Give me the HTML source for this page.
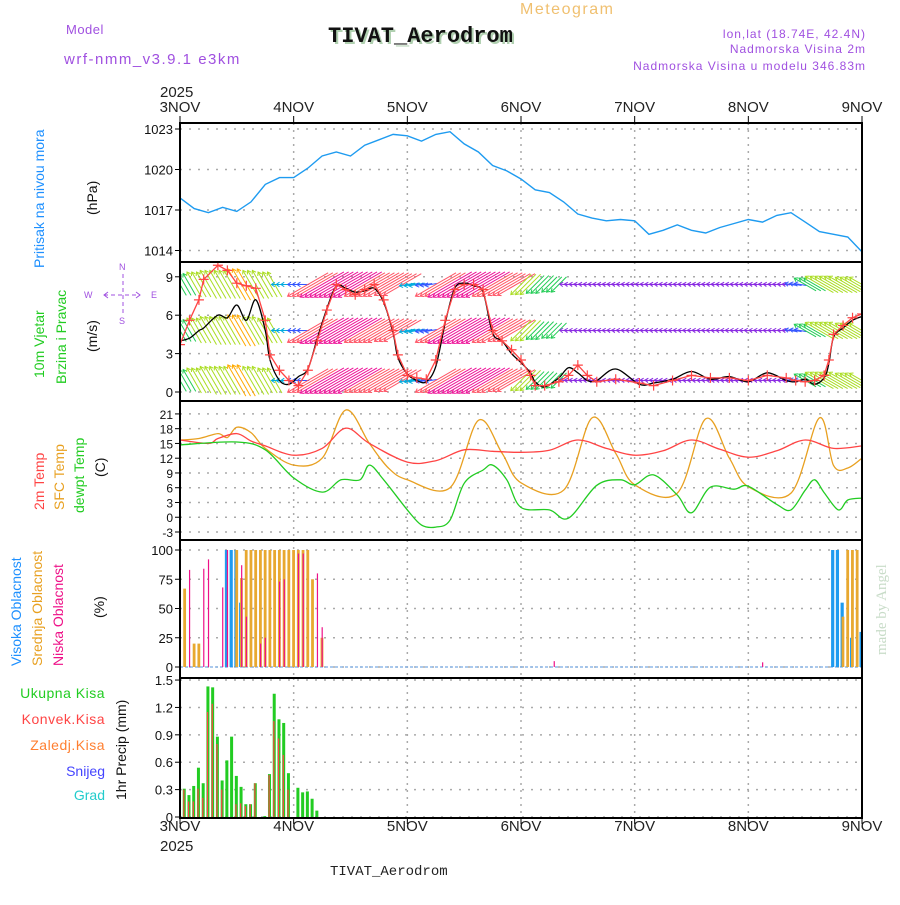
<!DOCTYPE html>
<html><head><meta charset="utf-8"><style>
body{margin:0;background:#fff;width:900px;height:900px;overflow:hidden;font-family:"Liberation Sans",sans-serif}
</style></head><body>
<svg id="chart" width="900" height="900" viewBox="0 0 900 900" xmlns="http://www.w3.org/2000/svg" font-family="Liberation Sans, sans-serif">
<text x="520" y="14" font-size="16" fill="#f0c070" letter-spacing="1.5">Meteogram</text>
<text x="330" y="44" font-size="22" font-weight="bold" style="font-family:'Liberation Mono',monospace" fill="#b0d0b0">TIVAT_Aerodrom</text>
<text x="328" y="42" font-size="22" font-weight="bold" style="font-family:'Liberation Mono',monospace" fill="#111">TIVAT_Aerodrom</text>
<text x="66" y="34" font-size="13" fill="#a050e0" letter-spacing="0.5">Model</text>
<text x="64" y="64" font-size="15" fill="#a050e0" letter-spacing="1.5">wrf-nmm_v3.9.1 e3km</text>
<text x="866" y="38" font-size="12" fill="#a050e0" text-anchor="end" letter-spacing="1">lon,lat (18.74E, 42.4N)</text>
<text x="866" y="53" font-size="12" fill="#a050e0" text-anchor="end" letter-spacing="1">Nadmorska Visina 2m</text>
<text x="866" y="70" font-size="12" fill="#a050e0" text-anchor="end" letter-spacing="1">Nadmorska Visina u modelu 346.83m</text>
<text x="160" y="97" font-size="15" fill="#222">2025</text>
<text x="160" y="851" font-size="15" fill="#222">2025</text>
<text x="330" y="875" font-size="14" style="font-family:'Liberation Mono',monospace" fill="#222">TIVAT_Aerodrom</text>
<text transform="translate(886,655) rotate(-90)" font-size="15" style="font-family:'Liberation Serif',serif" fill="#c8dcc8">made by Angel</text>
<g id="ylabels">
<text transform="translate(44,268) rotate(-90)" font-size="14" fill="#1e90ff">Pritisak na nivou mora</text>
<text transform="translate(97,215) rotate(-90)" font-size="14" fill="#111">(hPa)</text>
<text transform="translate(44,378) rotate(-90)" font-size="14" fill="#22cc22">10m Vjetar</text>
<text transform="translate(66,384) rotate(-90)" font-size="14" fill="#22cc22">Brzina i Pravac</text>
<text transform="translate(97,352) rotate(-90)" font-size="14" fill="#111">(m/s)</text>
<g fill="#a050e0" stroke="#a050e0" font-size="9">
<text x="84" y="298" stroke="none">W</text>
<text x="151" y="298" stroke="none">E</text>
<text x="119" y="270" stroke="none">N</text>
<text x="119" y="324" stroke="none">S</text>
<line x1="104" y1="295" x2="140" y2="295" stroke-dasharray="4,3"/>
<line x1="123" y1="274" x2="123" y2="315" stroke-dasharray="4,3"/>
<path d="M108,292 L104,295 L108,298 M136,292 L140,295 L136,298" fill="none"/>
</g>
<text transform="translate(44,510) rotate(-90)" font-size="14" fill="#ff4444">2m Temp</text>
<text transform="translate(64,510) rotate(-90)" font-size="14" fill="#e8a020">SFC Temp</text>
<text transform="translate(84,513) rotate(-90)" font-size="14" fill="#22cc22">dewpt Temp</text>
<text transform="translate(105,477) rotate(-90)" font-size="14" fill="#111">(C)</text>
<text transform="translate(21,666) rotate(-90)" font-size="14" fill="#1e90ff">Visoka Oblacnost</text>
<text transform="translate(42,666) rotate(-90)" font-size="14" fill="#e8a020">Srednja Oblacnost</text>
<text transform="translate(63,666) rotate(-90)" font-size="14" fill="#ee1188">Niska Oblacnost</text>
<text transform="translate(104,618) rotate(-90)" font-size="14" fill="#111">(%)</text>
<text x="105" y="698" font-size="14" fill="#22cc22" text-anchor="end" letter-spacing="0.5">Ukupna Kisa</text>
<text x="105" y="724" font-size="14" fill="#ff4444" text-anchor="end" letter-spacing="0.5">Konvek.Kisa</text>
<text x="105" y="750" font-size="14" fill="#ff7f30" text-anchor="end" letter-spacing="0.5">Zaledj.Kisa</text>
<text x="105" y="776" font-size="14" fill="#4444ff" text-anchor="end">Snijeg</text>
<text x="105" y="800" font-size="14" fill="#22cccc" text-anchor="end">Grad</text>
<text transform="translate(126,800) rotate(-90)" font-size="14" fill="#111">1hr Precip (mm)</text>
</g>
</svg>
<script>
// ---- data ----
const dayLabels=["3NOV","4NOV","5NOV","6NOV","7NOV","8NOV","9NOV"];
const presHours=[0,3,6,9,12,15,18,21,24,27,30,33,36,39,42,45,48,51,54,57,60,63,66,69,72,75,78,81,84,87,90,93,96,99,102,105,108,111,114,117,120,123,126,129,132,135,138,141,144];
const presValues=[1017.9,1017.1,1016.8,1017.2,1016.9,1017.6,1018.9,1019.4,1019.4,1020.1,1021.0,1021.3,1021.0,1021.8,1022.2,1022.6,1022.5,1022.1,1022.6,1022.8,1021.9,1021.3,1020.3,1019.9,1019.3,1018.5,1018.3,1017.6,1016.7,1016.4,1016.2,1016.3,1016.2,1015.2,1015.5,1015.9,1015.5,1015.3,1015.7,1016.0,1016.3,1016.1,1016.6,1016.8,1016.1,1015.4,1015.2,1015.0,1013.9];
const presTicks=[1014,1017,1020,1023];
const windTicks=[0,3,6,9];
const windHours=[0,2,4,5,8,10,12,14,16,18,19,21,23,25,27,29,31,33,35,37,39,41,43,45,46,48,50,52,54,56,58,60,62,64,66,68,70,72,74,75,77,80,82,84,86,88,92,97,100,104,108,112,116,120,124,128,130,132,134,136,137,138,140,142,144];
const windSpeed=[3.7,5.6,7.2,8.8,9.9,9.5,8.5,8.3,8.1,5.6,2.9,1.7,0.9,0.5,1.7,4.0,6.4,8.4,8.0,7.6,8.0,8.4,7.2,4.8,2.9,1.3,1.1,1.0,2.5,5.6,8.0,8.4,8.4,8.0,4.8,4.0,3.3,2.5,1.3,0.5,0.5,0.8,1.3,2.1,1.3,0.8,1.0,0.7,0.5,0.9,1.3,1.1,1.1,0.9,1.3,1.1,0.9,0.8,0.9,1.3,2.5,4.5,5.2,5.8,6.1];
const windGust=[4.0,4.2,4.8,5.0,6.0,5.8,6.8,5.6,7.2,4.8,2.5,0.9,0.6,1.2,1.8,4.2,6.5,8.3,8.1,7.8,7.9,8.1,7.0,4.6,2.7,1.4,0.9,0.8,2.0,5.4,8.1,8.5,8.3,7.8,4.6,4.0,3.0,2.3,1.5,0.8,0.4,1.1,1.9,1.5,0.9,0.9,1.8,0.6,0.7,1.0,1.6,1.0,1.2,0.8,1.5,0.9,0.8,1.0,0.6,1.1,2.2,4.3,5.0,5.6,5.9];
const arrowSpeed=[7,8,9,9,10,9,8,4,3,13,14,14,14,13,13,12,4,3,13,14,14,14,13,12,8,7,6,2,2,2,2,2,2,2,2,2,2,2,2,2,2,2,2,3,7,9,9,8,8];
const arrowDir=[330,330,330,330,330,330,330,270,270,240,240,240,240,240,240,240,260,260,240,240,240,240,240,240,225,225,225,275,275,275,275,275,275,275,275,275,275,275,275,275,275,275,275,280,300,300,300,300,300];
const windLevels=[8.4,4.8,0.9];
const tempTicks=[-3,0,3,6,9,12,15,18,21];
const t2Hours=[0,6,8,12,15,18,24,30,35,40,48,54,60,66,72,78,84,90,96,102,108,114,120,126,132,138,144];
const t2Values=[15.7,15.0,16.0,17.0,15.5,14.5,12.6,14.0,18.1,15.0,11.2,11.5,13.7,13.4,13.2,13.6,15.7,14.0,12.6,13.5,15.7,13.8,12.2,13.5,15.7,14.0,14.5];
const sfcHours=[0,4,8,10,12,15,18,24,30,35,40,44,48,57,63,68,72,81,87,92,96,105,111,116,120,129,135,138,141,144];
const sfcValues=[15.7,16.0,17.0,16.2,18.3,17.2,14.0,10.6,12.0,21.8,15.0,10.0,7.6,6.0,19.7,13.0,7.0,5.5,20.2,13.0,6.6,4.9,20.0,12.0,6.2,4.9,20.2,10.5,10.0,12.0];
const dewHours=[0,12,18,24,30,34,38,40,43,48,51,54,57,60,64,66,69,72,78,82,88,93,96,100,105,108,112,117,120,126,129,132,134,136,139,141,144];
const dewValues=[14.7,15.3,13.7,8.0,5.1,7.6,7.6,10.6,7.6,1.5,-1.6,-2.0,-0.6,6.9,9.6,10.6,7.6,2.0,1.5,-0.2,6.5,7.6,6.6,8.6,4.5,0.9,6.1,5.7,6.3,2.6,1.5,5.5,7.6,5.0,1.5,3.5,3.9];
const cloudTicks=[0,25,50,75,100];
const highHours=[10,11,12,13,138,139,140,142,144];
const highValues=[100,100,100,55,100,100,55,25,30];
const midHours=[1,3,4,12,13,14,15,16,17,18,19,20,21,22,23,24,25,26,27,28,30,140,141,142,143];
const midValues=[67,20,20,100,76,100,100,100,100,100,100,100,100,100,100,100,100,100,100,75,25,43,100,100,100];
const lowHours=[2,5,6,9,10,13,14,17,18,21,22,25,26,29,30,79,123,144];
const lowValues=[83,84,92,68,100,87,43,20,25,73,75,97,97,80,34,5,4,10];
const precipTicks=[0,0.3,0.6,0.9,1.2,1.5];
const precipHours=[1,2,3,4,5,6,7,8,9,10,11,12,13,14,15,16,18,19,20,21,22,23,25,26,27,28,29];
const totalPrecip=[0.31,0.24,0.34,0.54,0.37,1.43,1.42,0.88,0.40,0.62,0.88,0.45,0.33,0.14,0.14,0.37,0.01,0.47,1.35,1.07,1.03,0.48,0.32,0.27,0.28,0.20,0.07];
const convPrecip=[0.30,0.17,0.17,0.31,0.21,1.15,1.24,0.80,0.30,0,0,0.14,0.15,0.12,0.14,0.37,0,0.46,1.05,0.86,0.68,0.30,0,0,0,0,0];

// ---- layout ----
const svg=document.getElementById('chart');
const NS='http://www.w3.org/2000/svg';
const X0=180,X1=862;
const xs=h=>X0+h*(X1-X0)/144;
function mk(tag,attrs,parent){const e=document.createElementNS(NS,tag);for(const k in attrs)e.setAttribute(k,attrs[k]);(parent||svg).appendChild(e);return e;}
const panels=[
 {name:'pressure',top:123,bot:262,lin:v=>129+(1023-v)*13.5,ticks:presTicks},
 {name:'wind',top:262,bot:401,lin:v=>392-v*12.8,ticks:windTicks},
 {name:'temp',top:401,bot:540,lin:v=>532-(v+3)*4.92,ticks:tempTicks},
 {name:'cloud',top:540,bot:678,lin:v=>667-v*1.17,ticks:cloudTicks},
 {name:'precip',top:678,bot:818,lin:v=>817-v*91.3,ticks:precipTicks}
];
panels.forEach((p,pi)=>{
 const g=mk('g',{});
 
 
 p.g=g;
 const cp=mk('clipPath',{id:'clip'+pi},g);mk('rect',{x:X0,y:p.top,width:X1-X0,height:p.bot-p.top},cp);
 p.ticks.forEach(t=>{const y=p.lin(t);
  const gl=mk('line',{x1:X0,x2:X1,y1:y,y2:y,stroke:'#aaa','stroke-dasharray':'2,7','stroke-width':1.5},g);
  
  
  mk('line',{x1:X0-5,x2:X0,y1:y,y2:y,stroke:'#000'},g);
  const tl=mk('text',{x:X0-7,y:y+5,'font-size':p.name==='temp'?12:13,'text-anchor':'end',fill:'#111'},g);
  tl.textContent=t;
  
  
 });
 for(let d=1;d<6;d++){const vl=mk('line',{x1:xs(d*24),x2:xs(d*24),y1:p.top,y2:p.bot,stroke:'#aaa','stroke-dasharray':'2,5','stroke-width':1.5},g);
  
  }
 p.cg=mk('g',{'clip-path':'url(#clip'+pi+')'},g);
});
function line(p,hours,vals,color,name,w,smooth){
 const pts=hours.map((h,i)=>[xs(h),p.lin(vals[i])]);
 let d='M'+pts[0][0].toFixed(1)+','+pts[0][1].toFixed(1);
 for(let i=1;i<pts.length;i++){
  if(smooth){const p0=pts[Math.max(0,i-2)],p1=pts[i-1],p2=pts[i],p3=pts[Math.min(pts.length-1,i+1)];
   const c1=[p1[0]+(p2[0]-p0[0])/6,p1[1]+(p2[1]-p0[1])/6],c2=[p2[0]-(p3[0]-p1[0])/6,p2[1]-(p3[1]-p1[1])/6];
   d+=`C${c1[0].toFixed(1)},${c1[1].toFixed(1)} ${c2[0].toFixed(1)},${c2[1].toFixed(1)} ${p2[0].toFixed(1)},${p2[1].toFixed(1)}`;}
  else d+='L'+pts[i][0].toFixed(1)+','+pts[i][1].toFixed(1);
 }
 const e=mk('path',{d:d,fill:'none',stroke:color,'stroke-width':w||1.3},p.cg);
 
 
 return e;
}
line(panels[0],presHours,presValues,'#1e9bf0','pressure-line',1.4,false);
const P1=panels[1];
function spdColor(s){if(s<2.5)return'#8a2be2';if(s<4)return'#3355ff';if(s<6)return'#00aadd';if(s<8)return'#22cc55';if(s<10)return'#aadd22';if(s<12)return'#ffaa00';if(s<13.5)return'#ff5566';return'#ee1199';}
windLevels.forEach((lv,li)=>{
 for(let h=0;h<=144;h++){
  const i=Math.floor(h/3);const s=arrowSpeed[i],a=arrowDir[i]*Math.PI/180;
  const L=s<5?s*4:s*3.6;const x=xs(h),y=P1.lin(lv);
  const sx=x-Math.sin(a)*L*0.5,sy=y+Math.cos(a)*L*0.5;
  const tx=x+Math.sin(a)*L*0.5,ty=y-Math.cos(a)*L*0.5;
  const c=spdColor(s);
  const ar=mk('path',{d:`M${sx},${sy}L${tx},${ty}`,stroke:c,'stroke-width':1,fill:'none'},P1.cg);
  
  
  const ha=0.6;const hl=4;
  const b1x=tx-Math.sin(a-ha)*hl,b1y=ty+Math.cos(a-ha)*hl,b2x=tx-Math.sin(a+ha)*hl,b2y=ty+Math.cos(a+ha)*hl;
  mk('path',{d:`M${b1x},${b1y}L${tx},${ty}L${b2x},${b2y}`,stroke:c,'stroke-width':1,fill:'none'},P1.cg);
 }
});
line(P1,windHours,windGust,'#000','wind-speed-black-line',1.3,true);
line(P1,windHours,windSpeed,'#ff4444','wind-speed-line',1.3,false);
windHours.forEach((h,i)=>{const x=xs(h),y=P1.lin(windSpeed[i]);
 const m=mk('path',{d:`M${x-5},${y}h10M${x},${y-5}v10`,stroke:'#ff4444','stroke-width':1.2},P1.cg);
 
 });
const P2=panels[2];
line(P2,sfcHours,sfcValues,'#e8a020','sfc-temp-line',1.3,true);
line(P2,t2Hours,t2Values,'#ff4444','temp-2m-line',1.3,true);
line(P2,dewHours,dewValues,'#22cc22','dewpoint-line',1.3,true);
const P3=panels[3];
mk('line',{x1:X0,x2:X1,y1:P3.lin(0),y2:P3.lin(0),stroke:'#8fb8e8','stroke-width':1.5,'stroke-dasharray':'3,2'},P3.cg);
function bars(p,hours,vals,color,w,off,name){hours.forEach((h,i)=>{if(vals[i]<=0)return;const y=p.lin(vals[i]),y0=p.lin(0);
 const r=mk('rect',{x:xs(h)+off,y:y,width:w,height:y0-y,fill:color},p.cg);
 
 });}
bars(P3,highHours,highValues,'#1e9bf0',3.2,-2.5,'high-cloud-bar');
bars(P3,midHours,midValues,'#e8a830',2.8,-1.5,'mid-cloud-bar');
bars(P3,lowHours,lowValues,'#ee1188',1.2,-0.5,'low-cloud-bar');
const P4=panels[4];
bars(P4,precipHours,totalPrecip,'#22cc22',3,-2,'total-precip-bar');
bars(P4,precipHours,convPrecip,'#ff4444',1.2,-1.5,'convective-precip-bar');
panels.forEach(p=>{const f=mk('rect',{x:X0,y:p.top,width:X1-X0,height:p.bot-p.top,fill:'none',stroke:'#000','stroke-width':2});
 
 });
dayLabels.forEach((d,i)=>{const x=xs(i*24);
 [[112,'top'],[831,'bottom']].forEach(([y,pos])=>{
  const t=mk('text',{x:x,y:y,'font-size':15,'text-anchor':'middle',fill:'#222'});t.textContent=d;
  
  });
 mk('line',{x1:x,x2:x,y1:116,y2:123,stroke:'#000'});mk('line',{x1:x,x2:x,y1:818,y2:824,stroke:'#000'});
});
</script>
</body></html>
